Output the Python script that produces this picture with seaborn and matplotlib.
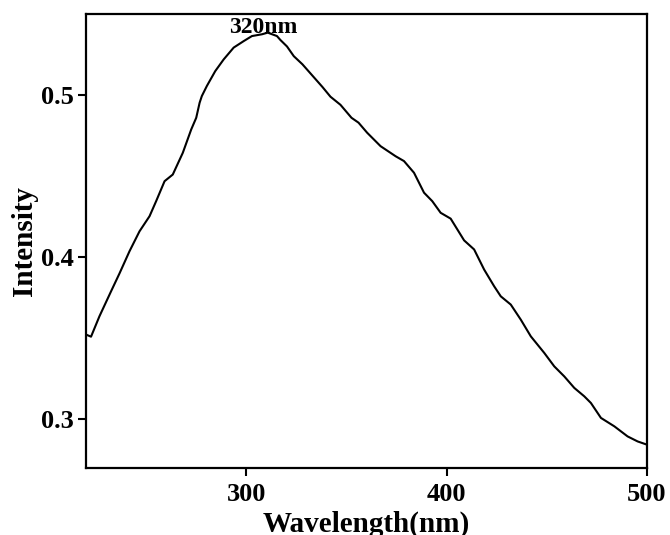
import matplotlib
matplotlib.use("Agg")
import matplotlib.pyplot as plt
import seaborn as sns
import pandas as pd

# Excitation spectrum
wavelength = [220.0, 222.5, 226.7, 232.5, 236.7, 241.7, 246.7, 251.7, 255.0, 259.2,
              263.3, 268.3, 272.5, 275.0, 276.7, 277.8, 280.3, 284.5, 288.7, 293.7,
              298.7, 302.8, 307.8, 310.7, 315.3, 317.0, 320.3, 323.7, 328.0, 333.0,
              338.0, 342.0, 347.0, 352.5, 356.0, 360.3, 367.0, 374.5, 378.7, 383.7,
              388.7, 392.8, 397.0, 402.0, 408.7, 413.7, 418.7, 423.7, 427.0, 432.0,
              437.0, 442.0, 448.7, 453.7, 458.7, 463.7, 468.7, 472.0, 477.0, 483.7,
              490.3, 495.3, 500.0]
intensity = [0.3523, 0.3510, 0.3636, 0.3790, 0.3900, 0.4037, 0.4160, 0.4253, 0.4346, 0.4469,
             0.4510, 0.4644, 0.4788, 0.4860, 0.4953, 0.4994, 0.5056, 0.5148, 0.5220, 0.5293,
             0.5333, 0.5364, 0.5375, 0.5385, 0.5364, 0.5340, 0.5300, 0.5240, 0.5190, 0.5120,
             0.5050, 0.4990, 0.4940, 0.4860, 0.4830, 0.4768, 0.4685, 0.4623, 0.4593, 0.4521,
             0.4398, 0.4346, 0.4274, 0.4238, 0.4104, 0.4048, 0.3924, 0.3821, 0.3759, 0.3708,
             0.3615, 0.3512, 0.3410, 0.3327, 0.3265, 0.3194, 0.3142, 0.3101, 0.3009, 0.2957,
             0.2895, 0.2864, 0.2844]

x_ticks = [300, 400, 500]
y_ticks = [0.3, 0.4, 0.5]
peak_label = "320nm"

sns.set_theme(style="ticks")
plt.rcParams["font.family"] = ["Liberation Serif", "DejaVu Serif"]
plt.rcParams["font.weight"] = "bold"
plt.rcParams["text.color"] = "black"
plt.rcParams["axes.labelcolor"] = "black"
plt.rcParams["xtick.color"] = "black"
plt.rcParams["ytick.color"] = "black"

df = pd.DataFrame({"Wavelength": wavelength, "Intensity": intensity})

fig = plt.figure(figsize=(6.7, 5.35), dpi=100)
ax = fig.add_axes([0.1284, 0.1252, 0.8373, 0.8486])

sns.lineplot(data=df, x="Wavelength", y="Intensity", ax=ax, color="black",
             linewidth=1.5, sort=False)

ax.set_xlim(220, 500)
ax.set_ylim(0.27, 0.55)
ax.set_xticks(x_ticks)
ax.set_yticks(y_ticks)
ax.set_xticklabels([str(t) for t in x_ticks], fontsize=19, fontweight="bold")
ax.set_yticklabels([f"{t:.1f}" for t in y_ticks], fontsize=19, fontweight="bold")
ax.tick_params(axis="both", direction="out", length=6, width=1.5, color="black",
               labelcolor="black")
ax.tick_params(axis="x", pad=5)
ax.tick_params(axis="y", pad=3)

for s in ax.spines.values():
    s.set_visible(True)
    s.set_linewidth(1.6)
    s.set_color("black")

ax.set_xlabel("Wavelength(nm)", fontsize=21, fontweight="bold", labelpad=3,
              color="black")
ax.set_ylabel("Intensity", fontsize=21, fontweight="bold", labelpad=2,
              color="black")

ax.text(308.5, 0.538, peak_label, ha="center", va="baseline", fontsize=17,
        fontweight="bold", color="black")

fig.savefig("out.png", dpi=100)
